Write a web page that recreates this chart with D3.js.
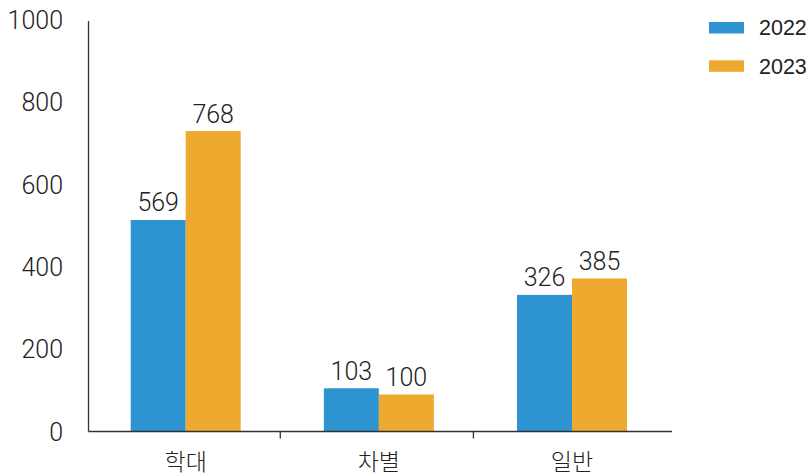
<!DOCTYPE html>
<html>
<head>
<meta charset="utf-8">
<script src="https://cdn.jsdelivr.net/npm/d3@7"></script>
<style>
  body { margin: 0; background: #fff; }
  svg { display: block; }
</style>
</head>
<body>
<svg id="chart" width="811" height="476"></svg>
<script>
// data
const categories = ["학대", "차별", "일반"];
const years = ["2022", "2023"];
// bar heights as drawn
const bars2022 = [514, 105, 332];
const bars2023 = [730, 90, 372];
// labels printed over the bars
const labels2022 = ["569", "103", "326"];
const labels2023 = ["768", "100", "385"];
const yTicks = [0, 200, 400, 600, 800, 1000];
const colors = ["#2e93d1", "#eea92f"];

const svg = d3.select("#chart");
const margin = {top: 20, right: 139, bottom: 44.5, left: 88.5};
const W = 811, H = 476;
const numFont = "Roboto, sans-serif";

const x = d3.scaleBand().domain(categories)
  .range([margin.left, 669.2])
  .paddingInner(0.4305).paddingOuter(0.2185);
const x1 = d3.scaleBand().domain(years).range([0, x.bandwidth()]);
const y = d3.scaleLinear().domain([0, 1000]).range([H - margin.bottom, margin.top]);

const rows = categories.map((c, i) => ({
  cat: c,
  vals: [
    {year: years[0], v: bars2022[i], label: labels2022[i]},
    {year: years[1], v: bars2023[i], label: labels2023[i]}
  ]
}));

// bars
const groups = svg.append("g").selectAll("g").data(rows).join("g")
  .attr("transform", d => `translate(${x(d.cat)},0)`);

groups.selectAll("rect").data(d => d.vals).join("rect")
  .attr("x", d => x1(d.year))
  .attr("y", d => y(d.v))
  .attr("width", x1.bandwidth())
  .attr("height", d => y(0) - y(d.v))
  .attr("fill", (d, i) => colors[i]);

groups.selectAll("text").data(d => d.vals).join("text")
  .attr("x", d => x1(d.year) + x1.bandwidth() / 2)
  .attr("y", d => y(d.v) - 8.5)
  .attr("text-anchor", "middle")
  .attr("font-family", numFont)
  .attr("font-weight", 300)
  .attr("font-size", 25)
  .attr("fill", "#222")
  .text(d => d.label);

// y axis: line + labels, no ticks
svg.append("line")
  .attr("x1", margin.left).attr("x2", margin.left)
  .attr("y1", margin.top + 1).attr("y2", y(0))
  .attr("stroke", "#333").attr("stroke-width", 1.3);

svg.append("g").selectAll("text").data(yTicks).join("text")
  .attr("x", 63)
  .attr("y", d => y(d))
  .attr("dy", "0.36em")
  .attr("text-anchor", "end")
  .attr("font-family", numFont)
  .attr("font-weight", 300)
  .attr("font-size", 25)
  .attr("fill", "#222")
  .text(d => d);

// x axis baseline and separators
svg.append("line")
  .attr("x1", margin.left).attr("x2", W - margin.right)
  .attr("y1", y(0)).attr("y2", y(0))
  .attr("stroke", "#333").attr("stroke-width", 1.3);

const step = x.step();
svg.append("g").selectAll("line").data(categories.slice(1)).join("line")
  .attr("x1", d => x(d) - step * x.paddingInner() / 2 - 2)
  .attr("x2", d => x(d) - step * x.paddingInner() / 2 - 2)
  .attr("y1", y(0)).attr("y2", y(0) + 7)
  .attr("stroke", "#333").attr("stroke-width", 1.3);

svg.append("g").selectAll("text").data(categories).join("text")
  .attr("x", d => x(d) + x.bandwidth() / 2)
  .attr("y", 470)
  .attr("text-anchor", "middle")
  .attr("font-family", "'Noto Sans CJK KR', sans-serif")
  .attr("font-weight", 300)
  .attr("font-size", 23)
  .attr("fill", "#222")
  .text(d => d);

// legend
const legend = svg.append("g").selectAll("g").data(years).join("g")
  .attr("transform", (d, i) => `translate(709,${22 + i * 38.3})`);
legend.append("rect")
  .attr("width", 35).attr("height", 11.5)
  .attr("fill", (d, i) => colors[i]);
legend.append("text")
  .attr("x", 50).attr("y", 5.5).attr("dy", "0.36em")
  .attr("font-family", "'Liberation Sans', Arial, sans-serif")
  .attr("font-size", 21.5)
  .attr("fill", "#222")
  .text(d => d);
</script>
</body>
</html>
